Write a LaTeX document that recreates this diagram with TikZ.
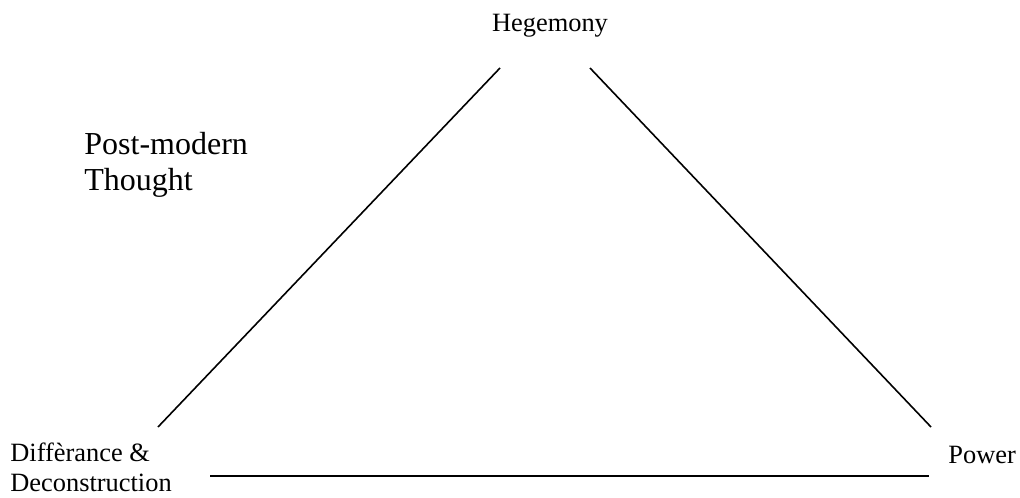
\documentclass[tikz,border=0pt]{standalone}
\usepackage{fontspec}
\setmainfont{Liberation Serif}
\begin{document}
\begin{tikzpicture}[x=0.5pt,y=-0.5pt,
  lbl/.style={inner sep=0pt, font=\fontsize{13.2}{15}\selectfont},
  big/.style={inner sep=0pt, font=\fontsize{16}{18}\selectfont},
  edge/.style={line width=0.8pt, line cap=butt}]
\useasboundingbox (0,0) rectangle (1020,497);
\node[lbl, anchor=base] (heg) at (550,32) {Hegemony};
\node[big, anchor=base west, align=left] (pm) at (84,191) {Post-modern\\Thought};
\node[lbl, anchor=base west] (dif1) at (10,461) {Diffèrance \&};
\node[lbl, anchor=base west] (dif2) at (10,491) {Deconstruction};
\node[lbl, anchor=base west] (pow) at (948,463) {Power};
\coordinate (l1) at (158,427);
\coordinate (l2) at (500,68);
\coordinate (r1) at (590,68);
\coordinate (r2) at (931,427);
\coordinate (b1) at (210,476);
\coordinate (b2) at (929,476);
\draw[edge] (l1) -- (l2);
\draw[edge] (r1) -- (r2);
\draw[edge] (b1) -- (b2);
\end{tikzpicture}
\end{document}
